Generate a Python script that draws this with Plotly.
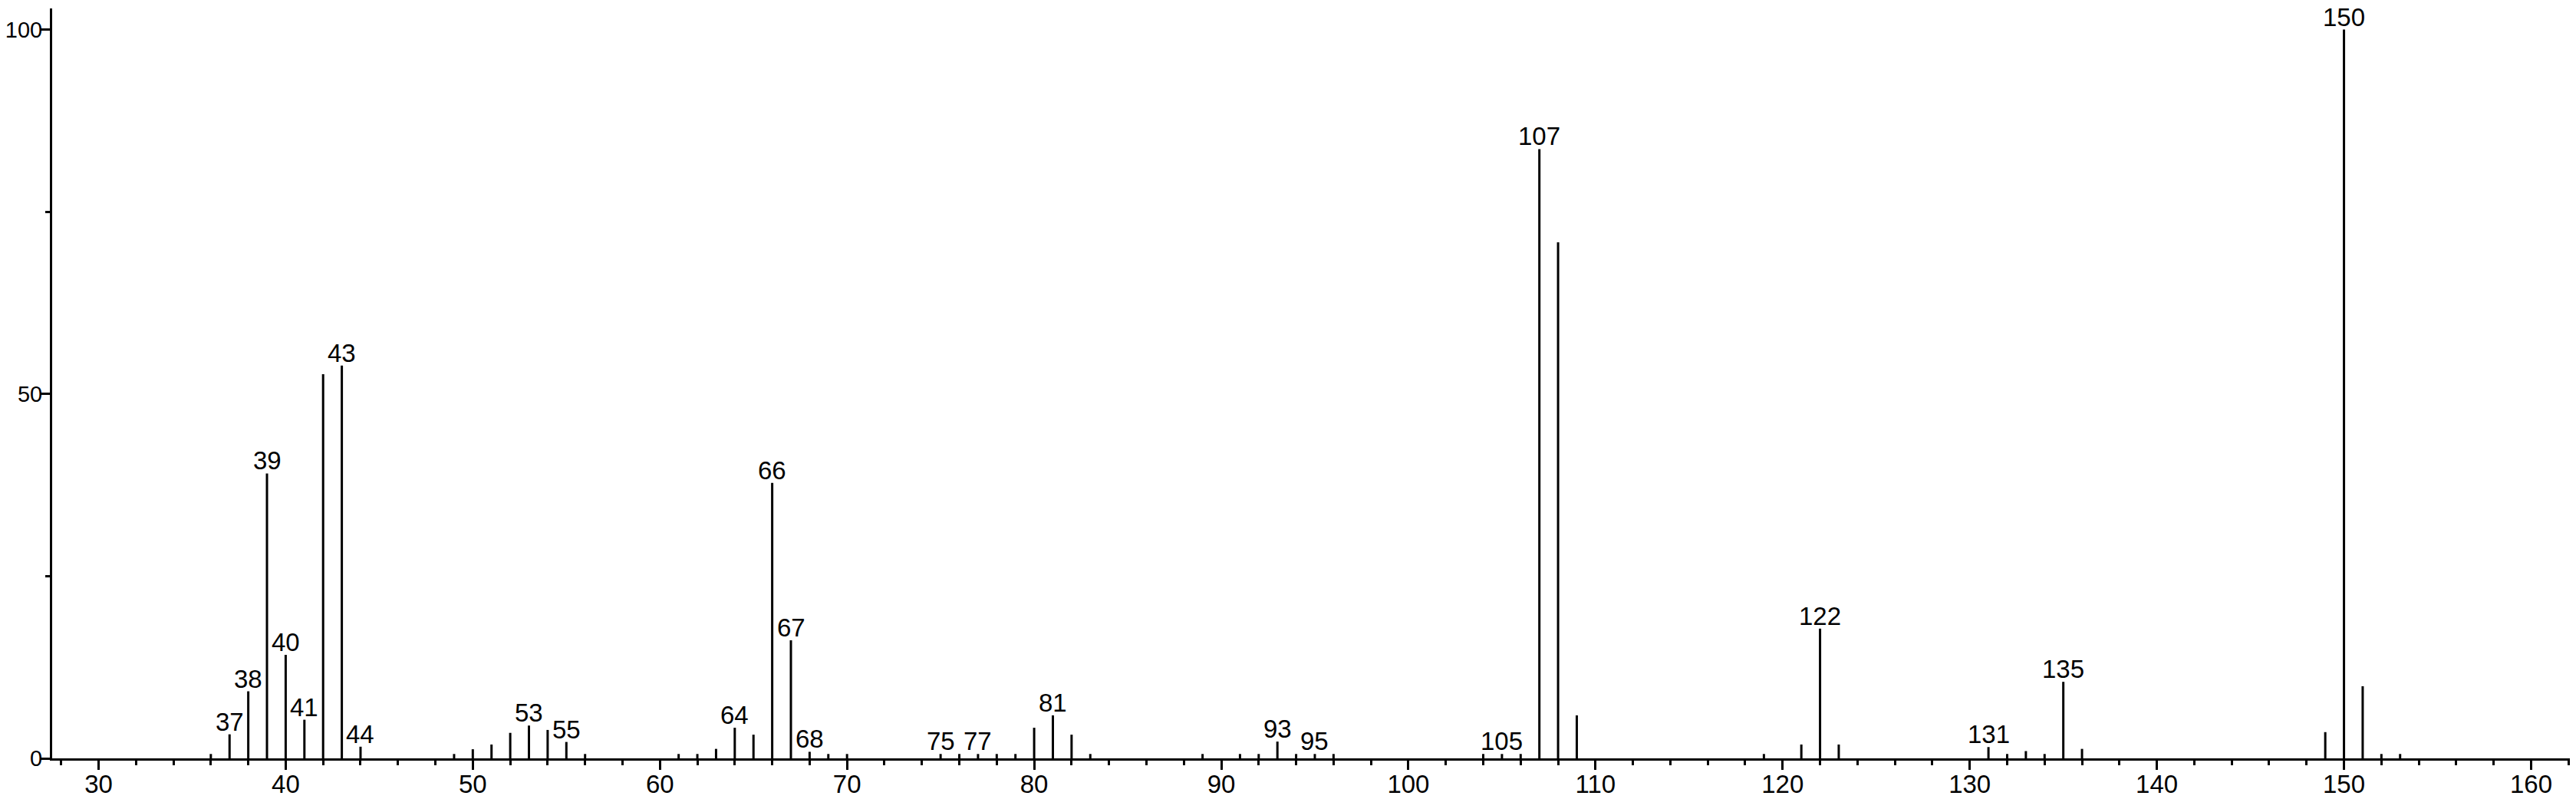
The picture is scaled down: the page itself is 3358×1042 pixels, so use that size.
import plotly.graph_objects as go

# m/z values and relative intensities
mz = [36, 37, 38, 39, 40, 41, 42, 43, 44,
      49, 50, 51, 52, 53, 54, 55, 56,
      61, 62, 63, 64, 65, 66, 67, 68, 69, 70,
      75, 76, 77, 78, 79, 80, 81, 82, 83,
      89, 91, 92, 93, 94, 95, 96,
      104, 105, 106, 107, 108, 109,
      119, 121, 122, 123,
      131, 132, 133, 134, 135, 136,
      149, 150, 151, 152, 153]
intensity = [0.6, 3.3, 9.2, 39.1, 14.2, 5.3, 52.7, 53.9, 1.6,
             0.6, 1.25, 1.9, 3.5, 4.5, 3.9, 2.25, 0.6,
             0.6, 0.6, 1.3, 4.2, 3.25, 37.8, 16.2, 0.9, 0.6, 0.6,
             0.6, 0.6, 0.6, 0.6, 0.6, 4.2, 5.9, 3.25, 0.6,
             0.6, 0.6, 0.6, 2.3, 0.6, 0.6, 0.6,
             0.6, 0.6, 0.6, 83.6, 70.8, 5.9,
             0.6, 1.9, 17.8, 1.9,
             1.55, 0.6, 1.0, 0.6, 10.5, 1.3,
             3.6, 100.0, 9.9, 0.6, 0.6]

# peaks that carry an m/z label
labeled = [37, 38, 39, 40, 41, 43, 44, 53, 55, 64, 66, 67, 68, 75, 77,
           81, 93, 95, 105, 107, 122, 131, 135, 150]

x_ticks = [30, 40, 50, 60, 70, 80, 90, 100, 110, 120, 130, 140, 150, 160]
y_ticks = [0, 50, 100]

FONT = "Liberation Sans, Arial, Helvetica, sans-serif"

xs, ys = [], []
for m, v in zip(mz, intensity):
    xs += [m, m, None]
    ys += [0, v, None]

fig = go.Figure()
fig.add_trace(go.Scatter(x=xs, y=ys, mode="lines",
                         line=dict(color="black", width=3),
                         hoverinfo="skip", showlegend=False))

lookup = dict(zip(mz, intensity))
for m in labeled:
    fig.add_annotation(x=m, y=lookup[m], text=str(m), showarrow=False,
                       xanchor="center", yanchor="bottom", yshift=-4,
                       font=dict(family=FONT, size=33, color="black"))

# the page body adds an 8px margin, so the figure is made 8px smaller
fig.update_layout(
    width=3350, height=1034,
    margin=dict(l=60, r=0, t=3, b=53),
    paper_bgcolor="white", plot_bgcolor="white",
    font=dict(family=FONT, size=33, color="black"),
    showlegend=False,
)
fig.update_xaxes(range=[27.52, 162.4], tickvals=x_ticks,
                 ticktext=[str(t) for t in x_ticks], automargin=False,
                 ticks="outside", ticklen=12, tickwidth=3, tickcolor="black",
                 ticklabelstandoff=-10,
                 showline=True, linewidth=3, linecolor="black",
                 showgrid=False, zeroline=False,
                 minor=dict(dtick=2, tick0=0, ticks="outside", ticklen=6,
                            tickwidth=3, tickcolor="black", showgrid=False),
                 tickfont=dict(family=FONT, size=33, color="black"))
fig.update_yaxes(range=[0, 102.9], tickvals=y_ticks,
                 ticktext=[str(t) for t in y_ticks], automargin=False,
                 ticks="outside", ticklen=12, tickwidth=3, tickcolor="black",
                 ticklabelstandoff=-8,
                 showline=True, linewidth=3, linecolor="black",
                 showgrid=False, zeroline=False,
                 minor=dict(dtick=25, tick0=0, ticks="outside", ticklen=6,
                            tickwidth=3, tickcolor="black", showgrid=False),
                 tickfont=dict(family=FONT, size=29, color="black"))

fig.write_html("out.html")
